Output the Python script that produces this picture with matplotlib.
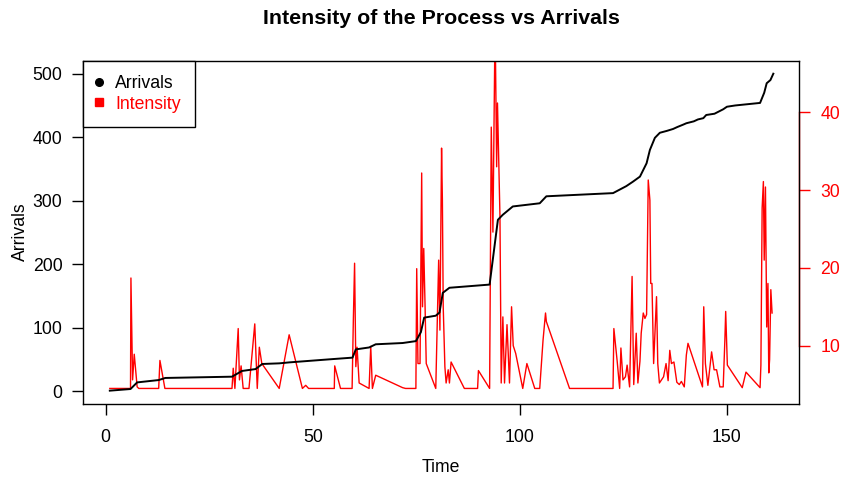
import numpy as np
import matplotlib
matplotlib.use("Agg")
import matplotlib.pyplot as plt
from matplotlib.lines import Line2D

plt.rcParams['font.family'] = ['Liberation Sans', 'DejaVu Sans']

# cumulative arrivals (black line)
arr_time = [1, 6, 7.6, 12.8, 14.4, 30.5, 32.9, 36.2, 37.8, 41.9, 44.3, 54.8,
            59.6, 60.4, 63.6, 65.2, 71.7, 74.9, 76.1, 76.9, 79.7, 80.6, 81.4,
            83.0, 92.7, 94.7, 95.9, 98.3, 104.8, 106.4, 109.6, 122.5, 125.7,
            127.3, 129.0, 130.6, 131.4, 132.6, 133.8, 135.5, 137.0, 138.0,
            139.5, 140.2, 142.0, 143.0, 144.3, 145.0, 147.0, 149.1, 150.0,
            152.0, 155.0, 158.0, 159.0, 159.6, 160.5, 161.2]
arr_vals = [1, 3.6, 14, 17.7, 21, 23, 32, 35, 43, 44, 45.5, 50.7,
            53, 66, 69, 74, 76, 79, 93, 116, 119, 124, 155,
            163, 168, 270, 278, 291, 296, 307, 308, 312, 323,
            330, 338, 359, 380, 399, 407, 410, 413, 416,
            420, 422, 425, 428, 430, 435, 437, 444, 448,
            450, 452, 454, 470, 485, 490, 500]

# intensity of the process (red line)
int_time = [1, 6, 6.1, 6.5, 6.9, 7.6, 8, 12.8, 13.1, 14.3, 30.5, 30.8, 31.2,
            32, 32.3, 32.7, 33.2, 34.6, 36, 36.6, 37.1, 37.7, 41.9, 44.3,
            47.5, 48.3, 49, 55.2, 55.3, 56.7, 59.5, 59.8, 60.1, 60.4, 60.7,
            61.2, 63.6, 64, 64.4, 65.2, 71.7, 72.4, 74.9, 75.1, 75.4, 75.9,
            76.3, 76.5, 76.8, 77.1, 77.4, 79.7, 80.4, 80.7, 81.1, 81.3, 81.5,
            81.9, 82.2, 82.7, 83, 83.4, 86.6, 89.8, 90, 92.7, 93.1, 93.5,
            93.8, 93.95, 94.1, 94.4, 94.6, 95.2, 95.5, 95.9, 96.3, 96.9, 97.5,
            98.0, 98.4, 99, 100.7, 101.7, 103.6, 104.8, 105.6, 106.2, 106.4,
            112, 122.5, 122.7, 123.5, 124.1, 124.4, 124.9, 125.5, 125.9, 126.5,
            127.1, 127.5, 128.1, 128.5, 129, 129.3, 129.8, 130.2, 130.6, 131,
            131.4, 131.6, 131.9, 132.3, 133, 133.3, 133.7, 134.2, 134.7, 135.3,
            135.8, 136.2, 136.6, 137.2, 137.9, 138.5, 139, 139.7, 140.2, 140.6,
            144.1, 144.4, 144.8, 145.4, 146.3, 146.9, 147.5, 148.3, 149.1,
            149.5, 149.7, 150.1, 153.7, 154.6, 158, 158.2, 158.5, 158.8, 159.0,
            159.3, 159.6, 159.9, 160.1, 160.3, 160.6, 160.9]
int_vals = [4.5, 4.5, 18.7, 5.6, 8.9, 4.7, 4.5, 4.5, 8.1, 4.5, 4.5, 7.1, 4.5,
            12.2, 5.6, 7.4, 4.5, 4.5, 12.8, 4.5, 9.8, 7.7, 4.5, 11.4,
            4.5, 4.9, 4.5, 4.5, 7.4, 4.5, 4.5, 13.3, 20.6, 7.3, 9.8,
            5.2, 4.5, 9.9, 4.5, 6.2, 4.6, 4.5, 4.5, 19.9, 7.7, 7.7,
            32.2, 15, 22.5, 15.5, 7.7, 4.5, 21, 12, 35.4, 28.7, 15,
            7.3, 5.2, 6.9, 5.2, 7.9, 4.5, 4.5, 6.8, 4.5, 38.1, 24.6,
            39.7, 48, 48, 33, 41.2, 26.6, 5.2, 13.7, 5.2, 12.7, 5.2,
            15, 10, 9, 4.5, 7.7, 4.5, 4.5, 10.7, 14.2, 13.1,
            4.5, 4.5, 12.2, 8, 4.5, 9.7, 5.6, 6, 7.5, 4.7,
            18.9, 5, 11.6, 5.2, 8, 11.6, 14.2, 13.5, 14, 31.3,
            28.7, 18, 18, 7.7, 16.3, 7.7, 5.2, 5.6, 6.0, 7.7,
            5.5, 9.4, 7.7, 7.9, 5.3, 5.0, 5.4, 4.7, 8.8, 10.3,
            4.7, 15, 7.7, 4.9, 9.2, 6.9, 6.9, 4.7, 4.7,
            10.7, 14.4, 7.5, 4.6, 6.6, 4.6, 7.5, 27.7, 31.1, 21,
            30.4, 12.4, 18, 6.5, 8.2, 17.2, 14.2]

x_ticks = [0, 50, 100, 150]
left_ticks = [0, 100, 200, 300, 400, 500]
right_ticks = [10, 20, 30, 40]

W, H = 844, 480
fig = plt.figure(figsize=(W / 100, H / 100), dpi=100)
ax = fig.add_axes([83.3 / W, 1 - 404 / H, (799 - 83.3) / W, (404 - 61) / H])
ax2 = ax.twinx()

ax.plot(arr_time, arr_vals, color='black', lw=1.4, zorder=3)
ax2.plot(int_time, int_vals, color='#ff0000', lw=1.0)
ax.set_zorder(ax2.get_zorder() + 1)
ax.patch.set_visible(False)

ax.set_xlim(-5.4, 167.4)
ax.set_ylim(-20, 520)
ax2.set_ylim(2.5, 46.6)

fs = 12.7
ax.set_xticks(x_ticks)
ax.set_yticks(left_ticks)
ax2.set_yticks(right_ticks)
ax.tick_params(axis='both', direction='out', length=8, width=1, labelsize=fs)
ax.tick_params(axis='y', pad=7)
ax.tick_params(axis='x', pad=10)
ax2.tick_params(axis='y', direction='out', length=8, width=1, labelsize=fs,
                colors='#ff0000', pad=7.5)

for sp in ax.spines.values():
    sp.set_linewidth(1)
for name in ['top', 'left', 'bottom']:
    ax2.spines[name].set_visible(False)
ax2.spines['right'].set_color('#ff0000')
ax2.spines['right'].set_bounds(10, 40)
ax2.spines['right'].set_linewidth(1)

fig.text(441 / W, 1 - 18 / H, 'Intensity of the Process vs Arrivals',
         ha='center', va='center', fontsize=15.4, fontweight='bold')
fig.text(441 / W, 1 - 467 / H, 'Time', ha='center', va='center', fontsize=fs)
fig.text(20 / W, 1 - 232 / H, 'Arrivals', ha='center', va='center',
         rotation=90, fontsize=fs)

handles = [Line2D([], [], ls='none', marker='o', color='black', markersize=5.5),
           Line2D([], [], ls='none', marker='s', color='#ff0000', markersize=5.5)]
leg = ax.legend(handles, ['Arrivals', 'Intensity'], loc='upper left',
                bbox_to_anchor=(0, 1), borderaxespad=0, fancybox=False,
                edgecolor='black', framealpha=1, fontsize=fs,
                handlelength=0.2, handletextpad=0.8, borderpad=0.8,
                labelspacing=0.2, labelcolor=['black', '#ff0000'])
leg.get_frame().set_linewidth(1)

fig.savefig('out.png', dpi=100)
